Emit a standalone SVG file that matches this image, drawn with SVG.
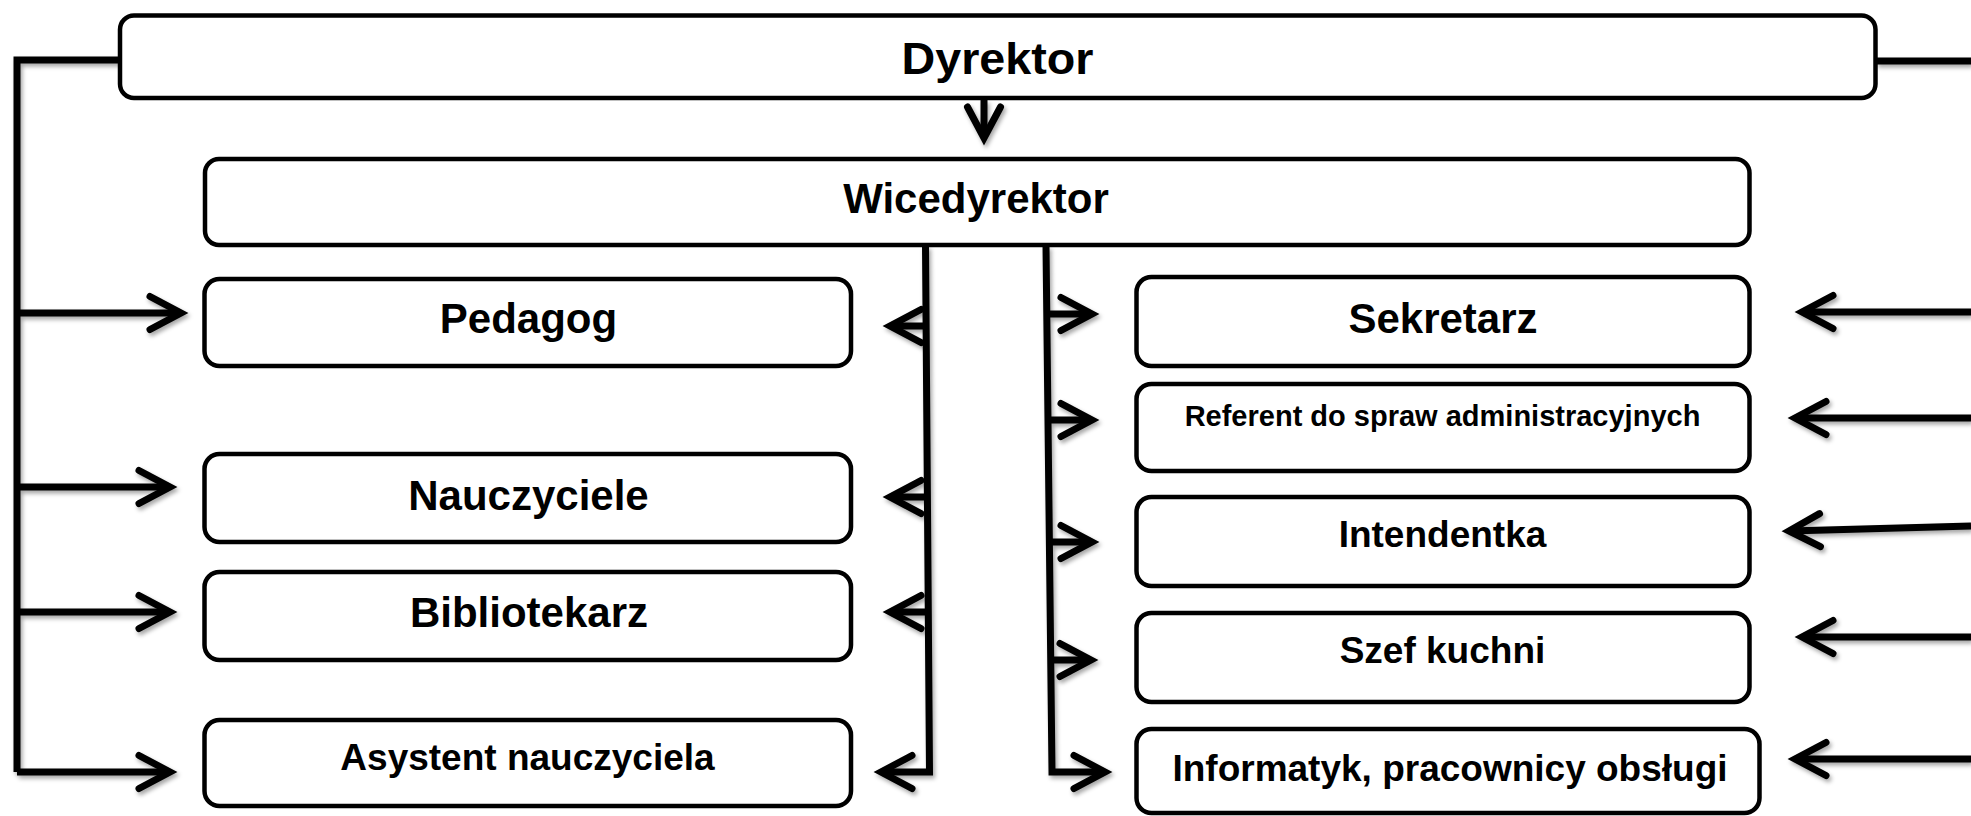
<svg xmlns="http://www.w3.org/2000/svg" width="1971" height="816" viewBox="0 0 1971 816">
  <defs>
    <filter id="sh" x="-5%" y="-5%" width="110%" height="110%">
      <feDropShadow dx="2" dy="3" stdDeviation="2" flood-color="#000" flood-opacity="0.35"/>
    </filter>
    <marker id="ah" markerUnits="userSpaceOnUse" markerWidth="60" markerHeight="60" viewBox="-40 -30 60 60" refX="0" refY="0" orient="auto" overflow="visible">
      <path d="M-31,-16.5 L0,0 L-31,16.5" fill="none" stroke="#000" stroke-width="7" stroke-linecap="round" stroke-linejoin="miter" stroke-miterlimit="10"/>
    </marker>
    <style>
      .box { fill: #fff; stroke: #000; stroke-width: 4.5; }
      .lbl { font-family: "Liberation Sans", Arial, sans-serif; font-weight: bold; text-anchor: middle; fill: #000; }
      .con { fill: none; stroke: #000; stroke-width: 7; stroke-linejoin: miter; }
      .arr { marker-end: url(#ah); }
    </style>
  </defs>
  <rect width="1971" height="816" fill="#fff"/>

  <g id="connectors" filter="url(#sh)">
    <path class="con" d="M120,60 H17 V772"/>
    <path class="con arr" d="M17,313 H181"/>
    <path class="con arr" d="M17,487 H170"/>
    <path class="con arr" d="M17,612 H170"/>
    <path class="con arr" d="M17,772 H170"/>
    <path class="con arr" d="M984,100 V138"/>
    <path class="con arr" d="M925.5,246 L929.5,772 H881"/>
    <path class="con arr" d="M926,326 H890"/>
    <path class="con arr" d="M927,497 H890"/>
    <path class="con arr" d="M928,612 H890"/>
    <path class="con arr" d="M1046,246 L1052,772 H1105"/>
    <path class="con arr" d="M1046.5,314 H1092"/>
    <path class="con arr" d="M1047.5,420 H1092"/>
    <path class="con arr" d="M1049,542 H1092"/>
    <path class="con arr" d="M1050,660 H1091"/>
    <path class="con" d="M1876,61 H1971"/>
    <path class="con arr" d="M1971,312 H1802"/>
    <path class="con arr" d="M1971,418 H1795"/>
    <path class="con arr" d="M1971,526 L1789,531"/>
    <path class="con arr" d="M1971,637 H1802"/>
    <path class="con arr" d="M1971,759 H1795"/>
  </g>

  <g id="dyrektor">
    <rect class="box" x="120" y="15.5" width="1755.5" height="82.5" rx="14"/>
    <text class="lbl" x="997.5" y="74" font-size="45" textLength="192" lengthAdjust="spacingAndGlyphs">Dyrektor</text>
  </g>
  <g id="wicedyrektor">
    <rect class="box" x="205" y="159" width="1544.5" height="86" rx="14"/>
    <text class="lbl" x="976" y="213" font-size="42">Wicedyrektor</text>
  </g>
  <g id="pedagog">
    <rect class="box" x="204.5" y="279" width="646.5" height="87" rx="15"/>
    <text class="lbl" x="528.5" y="333" font-size="42">Pedagog</text>
  </g>
  <g id="nauczyciele">
    <rect class="box" x="204.5" y="454" width="646.5" height="88" rx="15"/>
    <text class="lbl" x="528.5" y="510" font-size="42">Nauczyciele</text>
  </g>
  <g id="bibliotekarz">
    <rect class="box" x="204.5" y="572" width="646.5" height="88" rx="15"/>
    <text class="lbl" x="529" y="627" font-size="42">Bibliotekarz</text>
  </g>
  <g id="asystent">
    <rect class="box" x="204.5" y="720" width="646.5" height="86" rx="15"/>
    <text class="lbl" x="527.5" y="770" font-size="37">Asystent nauczyciela</text>
  </g>
  <g id="sekretarz">
    <rect class="box" x="1136.5" y="277" width="613" height="89" rx="15"/>
    <text class="lbl" x="1443" y="333" font-size="42">Sekretarz</text>
  </g>
  <g id="referent">
    <rect class="box" x="1136.5" y="384" width="613" height="87" rx="15"/>
    <text class="lbl" x="1442.5" y="426" font-size="29">Referent do spraw administracyjnych</text>
  </g>
  <g id="intendentka">
    <rect class="box" x="1136.5" y="497" width="613" height="89" rx="15"/>
    <text class="lbl" x="1442.5" y="547" font-size="37">Intendentka</text>
  </g>
  <g id="szef-kuchni">
    <rect class="box" x="1136.5" y="613" width="613" height="89" rx="15"/>
    <text class="lbl" x="1442.5" y="663" font-size="37">Szef kuchni</text>
  </g>
  <g id="informatyk">
    <rect class="box" x="1136.5" y="729" width="623" height="84" rx="15"/>
    <text class="lbl" x="1450" y="781" font-size="37">Informatyk, pracownicy obsługi</text>
  </g>
</svg>
